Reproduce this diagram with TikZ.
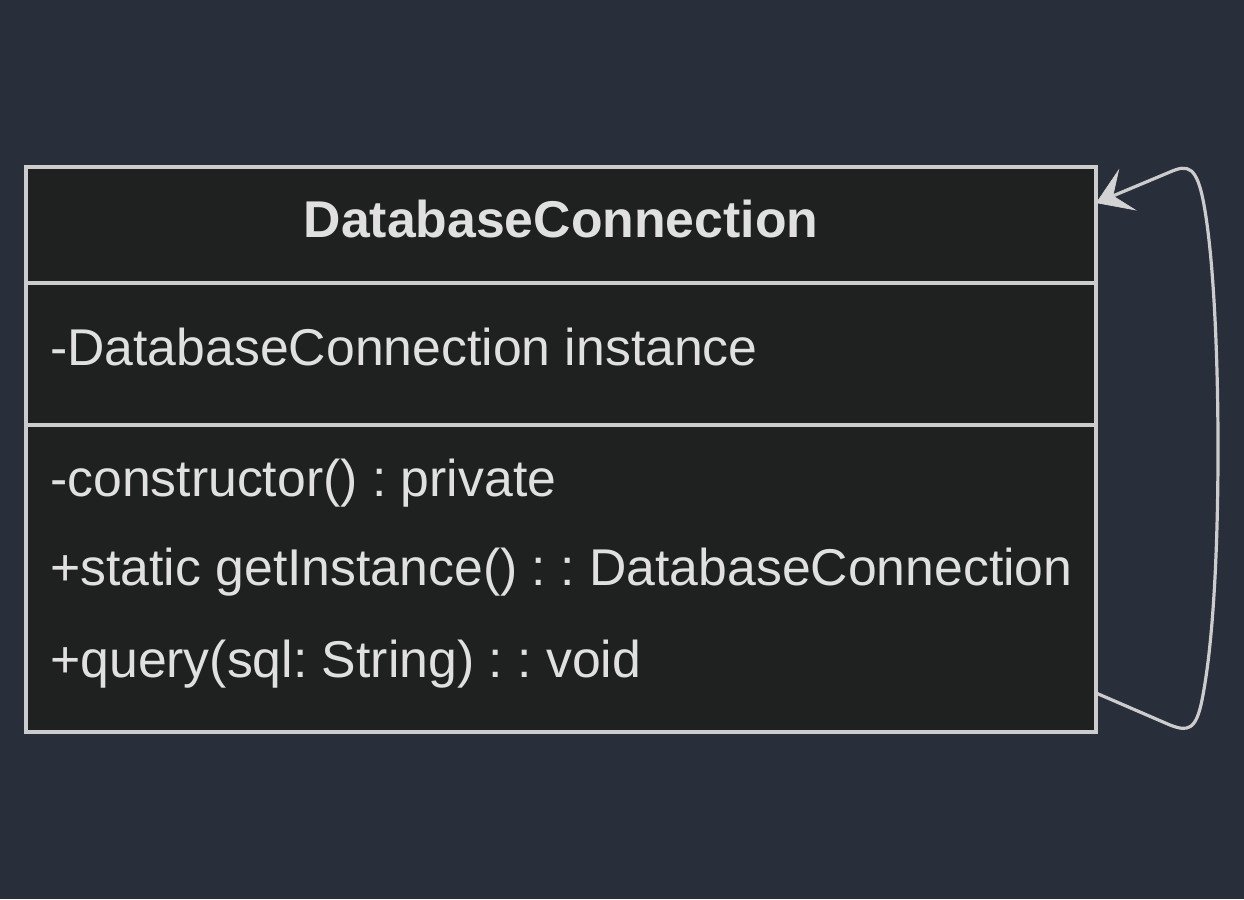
\documentclass[tikz,border=0pt]{standalone}
\usepackage{fontspec}
\setmainfont{Liberation Sans}
\usetikzlibrary{arrows.meta}
\definecolor{bgc}{RGB}{41,46,59}
\definecolor{boxfill}{RGB}{31,32,32}
\definecolor{linec}{RGB}{204,204,204}
\definecolor{txtc}{RGB}{224,224,224}
\definecolor{arrc}{RGB}{211,211,211}
\frenchspacing
\tikzset{
  compart/.style={draw=linec, fill=boxfill, line width=2.4pt, minimum width=802.5pt, inner sep=0pt, outer sep=0pt},
  member/.style={anchor=base west, inner sep=0pt, text=txtc, font=\fontsize{38.8pt}{46pt}\selectfont\frenchspacing},
  titletext/.style={anchor=base, inner sep=0pt, text=txtc, font=\fontsize{38.8pt}{46pt}\selectfont\bfseries},
  selfloop/.style={draw=linec, line width=2.4pt, -{Stealth[length=26pt, width=34pt, inset=12pt, fill=arrc, color=arrc, line width=0.5pt]}}
}
\begin{document}
\begin{tikzpicture}[x=0.75pt, y=-0.75pt]
\fill[bgc] (0,0) rectangle (1244,899);
\useasboundingbox (0,0) rectangle (1244,899);
% compartments
\node[compart, minimum height=87pt] (titlebox) at (561,225) {};
\node[compart, minimum height=106.5pt] (attrbox) at (561,354) {};
\node[compart, minimum height=230.25pt] (methbox) at (561,578.5) {};
% texts
\node[titletext] (title) at (561,237) {DatabaseConnection};
\node[member] (attr1) at (50,365) {-DatabaseConnection instance};
\node[member] (meth1) at (50,496) {-constructor() : private};
\node[member] (meth2) at (50,585) {+static getInstance() : : DatabaseConnection};
\node[member] (meth3) at (50,677) {+query(sql: String) : : void};
% self association
\coordinate (loopstart) at (methbox.east |- 0,693);
\coordinate (looptip) at (titlebox.east |- 0,203);
\draw[selfloop] (loopstart) -- (1170,725)
  .. controls (1188,732) and (1196,730) .. (1202,700)
  .. controls (1214,640) and (1218,540) .. (1218,449)
  .. controls (1218,360) and (1214,260) .. (1204,205)
  .. controls (1197,166) and (1188,164) .. (1170,172)
  -- (looptip);
\end{tikzpicture}
\end{document}
